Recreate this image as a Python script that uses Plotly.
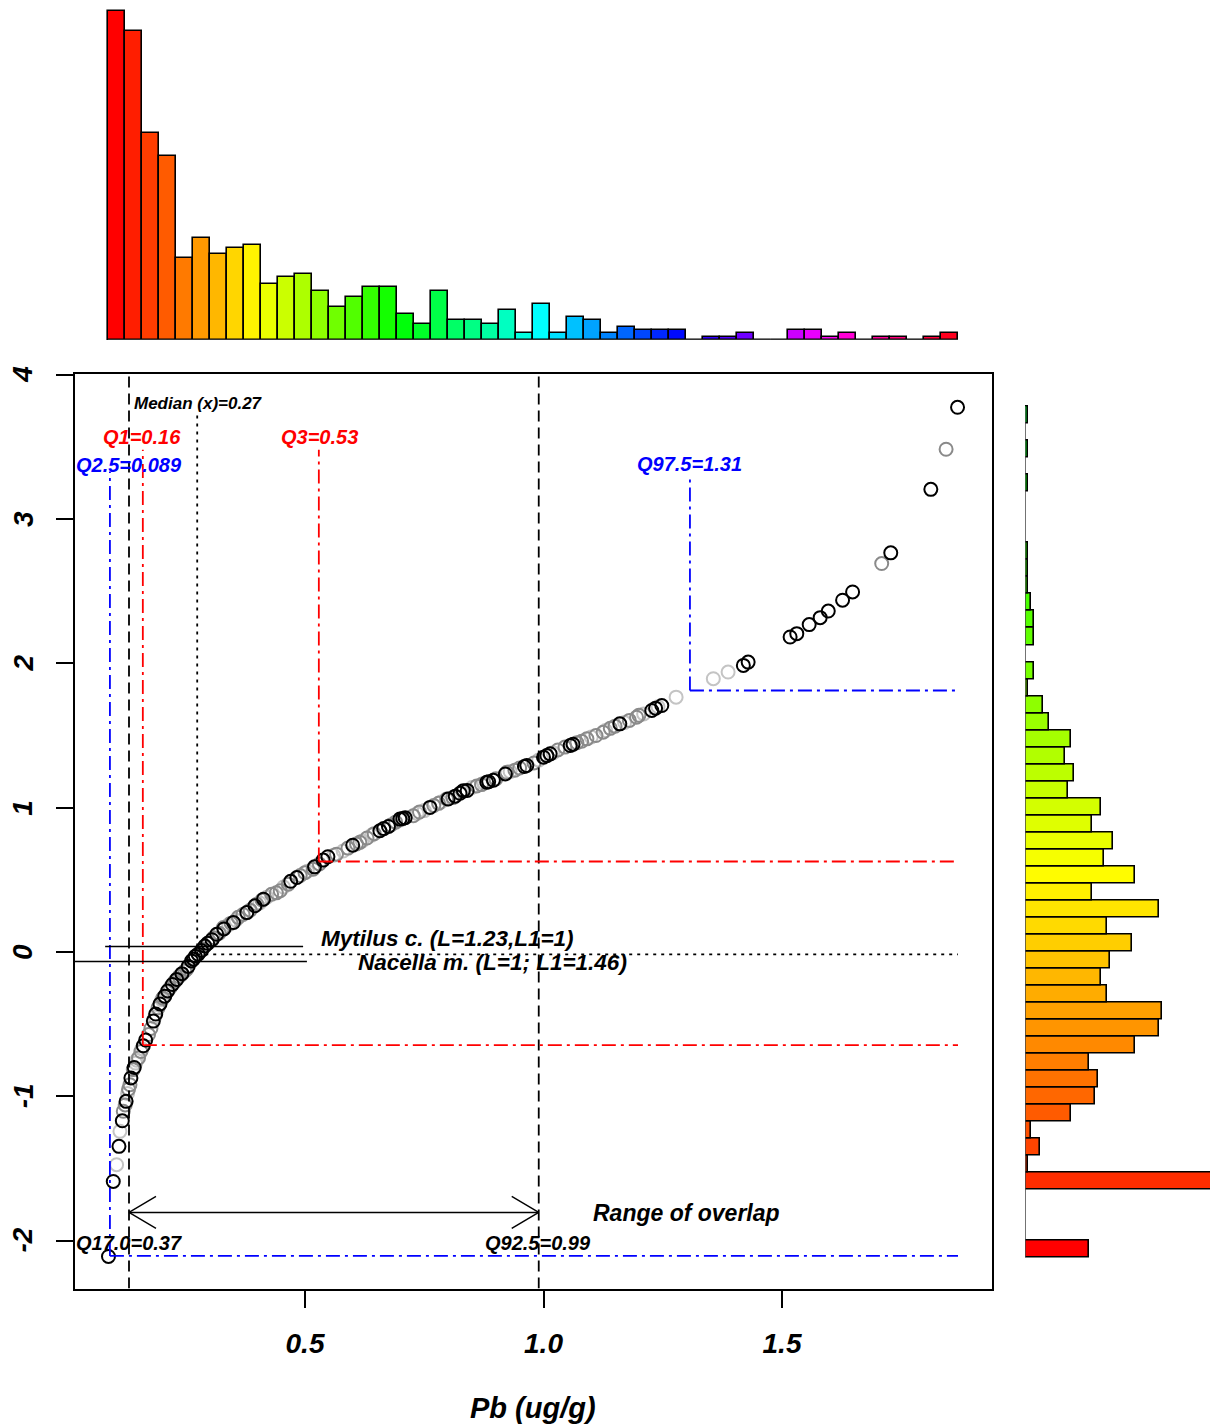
import colorsys
import plotly.graph_objects as go

# ---------------- data ----------------
# top histogram (Pb, ug/g) : 50 bins between data min and max
top_counts = [100, 94, 63, 56, 25, 31, 26, 28, 29, 17,
              19, 20, 15, 10, 13, 16, 16, 8, 5, 15,
              6, 6, 5, 9, 2, 11, 2, 7, 6, 2,
              4, 3, 3, 3, 0, 1, 1, 2, 0, 0,
              3, 3, 1, 2, 0, 1, 1, 0, 1, 2]
X_HIST_START, X_HIST_END = 0.087, 1.869

# right histogram (transformed values) : 50 bins, bottom to top
right_counts = [21, 0, 0, 0, 75, 1, 5, 2, 15, 23,
                24, 21, 36, 44, 45, 27, 25, 28, 35, 27,
                44, 22, 36, 26, 29, 22, 25, 14, 16, 13,
                15, 8, 6, 1, 3, 0, 3, 3, 2, 1,
                1, 1, 0, 0, 0, 1, 0, 1, 0, 1]
Y_HIST_START, Y_HIST_END = -2.114, 3.777

# axis ticks
x_ticks = [0.5, 1.0, 1.5]
x_tick_labels = ["0.5", "1.0", "1.5"]
y_ticks = [-2, -1, 0, 1, 2, 3, 4]

# scatter points (Pb vs transformed value), three shades
black_x = [0.088, 0.098, 0.110, 0.117, 0.125, 0.135, 0.142, 0.161, 0.166, 0.182,
           0.187, 0.196, 0.206, 0.212, 0.222, 0.231, 0.242, 0.255, 0.262, 0.266,
           0.270, 0.276, 0.283, 0.290, 0.296, 0.305, 0.315, 0.330, 0.350, 0.378,
           0.395, 0.413, 0.470, 0.483, 0.520, 0.538, 0.548, 0.600, 0.657, 0.665,
           0.675, 0.699, 0.705, 0.710, 0.762, 0.800, 0.815, 0.825, 0.832, 0.840,
           0.881, 0.885, 0.895, 0.920, 0.960, 0.965, 1.000, 1.007, 1.014, 1.056,
           1.062, 1.160, 1.227, 1.235, 1.248, 1.419, 1.429, 1.517, 1.531, 1.557,
           1.580, 1.597, 1.627, 1.648, 1.728, 1.812, 1.868]
black_y = [-2.110, -1.590, -1.347, -1.170, -1.035, -0.873, -0.800, -0.650, -0.610, -0.479,
           -0.430, -0.360, -0.306, -0.270, -0.225, -0.190, -0.150, -0.100, -0.062, -0.050,
           -0.030, -0.015, 0.010, 0.042, 0.060, 0.085, 0.123, 0.160, 0.204, 0.273,
           0.320, 0.366, 0.490, 0.516, 0.590, 0.637, 0.660, 0.740, 0.840, 0.855,
           0.870, 0.921, 0.925, 0.930, 1.002, 1.060, 1.080, 1.100, 1.118, 1.120,
           1.176, 1.180, 1.190, 1.234, 1.285, 1.292, 1.350, 1.361, 1.373, 1.431,
           1.440, 1.581, 1.674, 1.690, 1.708, 1.986, 2.009, 2.183, 2.206, 2.269,
           2.317, 2.363, 2.438, 2.495, 2.766, 3.206, 3.775]

gray_x = [0.119, 0.123, 0.130, 0.133, 0.140, 0.151, 0.156, 0.172, 0.177, 0.192,
          0.202, 0.217, 0.227, 0.236, 0.248, 0.252, 0.285, 0.308, 0.320, 0.329,
          0.345, 0.360, 0.370, 0.385, 0.399, 0.410, 0.430, 0.440, 0.448, 0.465,
          0.490, 0.500, 0.517, 0.530, 0.566, 0.590, 0.608, 0.615, 0.630, 0.645,
          0.680, 0.690, 0.727, 0.740, 0.770, 0.780, 0.797, 0.810, 0.860, 0.870,
          0.900, 0.923, 0.940, 0.950, 0.980, 1.030, 1.045, 1.070, 1.080, 1.091,
          1.110, 1.125, 1.140, 1.150, 1.180, 1.195, 1.200, 1.709, 1.844]
gray_y = [-1.104, -1.060, -0.951, -0.920, -0.815, -0.734, -0.690, -0.572, -0.530, -0.387,
          -0.320, -0.248, -0.205, -0.170, -0.132, -0.120, 0.020, 0.099, 0.130, 0.169,
          0.200, 0.240, 0.260, 0.290, 0.331, 0.360, 0.400, 0.410, 0.424, 0.470,
          0.530, 0.550, 0.574, 0.610, 0.678, 0.720, 0.748, 0.760, 0.790, 0.820,
          0.880, 0.900, 0.944, 0.970, 1.015, 1.030, 1.060, 1.070, 1.150, 1.160,
          1.200, 1.245, 1.260, 1.275, 1.310, 1.400, 1.420, 1.450, 1.460, 1.477,
          1.500, 1.523, 1.550, 1.565, 1.605, 1.627, 1.640, 2.692, 3.484]

light_x = [0.105, 0.112, 0.128, 0.145, 0.147, 0.158, 0.185, 0.200, 0.210, 0.228,
           0.240, 0.300, 0.340, 0.355, 0.405, 0.420, 0.455, 0.505, 0.560, 0.580,
           0.620, 0.640, 0.700, 0.735, 0.750, 0.785, 0.830, 0.850, 0.875, 0.930,
           0.990, 1.020, 1.060, 1.100, 1.130, 1.170, 1.210, 1.240, 1.278, 1.356,
           1.387]
light_y = [-1.474, -1.243, -0.980, -0.770, -0.750, -0.670, -0.450, -0.330, -0.280, -0.200,
           -0.160, 0.070, 0.190, 0.220, 0.340, 0.380, 0.450, 0.560, 0.670, 0.700,
           0.770, 0.810, 0.915, 0.960, 0.980, 1.040, 1.110, 1.140, 1.170, 1.250,
           1.330, 1.380, 1.435, 1.490, 1.535, 1.590, 1.650, 1.700, 1.766, 1.894,
           1.940]

# reference statistics
q025_x, q1_x, med_x, q3_x, q975_x = 0.091, 0.160, 0.274, 0.529, 1.307
q170_x, q925_x = 0.131, 0.990
q025_y, q1_y, med_y, q3_y, q975_y = -2.106, -0.645, -0.017, 0.627, 1.812
mytilus_y, nacella_y = 0.038, -0.066
overlap_y = -1.805

# ---------------- layout constants ----------------
PAGE_W, PAGE_H = 1218, 1425
OFF = 8                      # browser body margin
W, H = PAGE_W - OFF, PAGE_H - OFF


def px_x(p):                 # page pixel -> paper x
    return (p - OFF) / W


def px_y(p):                 # page pixel -> paper y
    return (PAGE_H - p) / H


X_RANGE = [0.0178, 1.9392]
Y_RANGE = [-2.332, 4.009]
XDOM = [px_x(75), px_x(991.5)]
YDOM = [px_y(1288.5), px_y(373.5)]
FONT = "Liberation Sans, Arial, sans-serif"


def rainbow(n, h_step):
    out = []
    for i in range(n):
        r, g, b = colorsys.hsv_to_rgb((i * h_step) % 1.0, 1, 1)
        out.append(f"rgb({int(r*255)},{int(g*255)},{int(b*255)})")
    return out


fig = go.Figure()

# top histogram
nt = len(top_counts)
tw = (X_HIST_END - X_HIST_START) / nt
top_centers = [X_HIST_START + (i + 0.5) * tw for i in range(nt)]
fig.add_trace(go.Bar(x=top_centers, y=top_counts, width=tw,
                     marker=dict(color=rainbow(nt, 1 / nt), line=dict(color="black", width=1.6)),
                     xaxis="x2", yaxis="y2", showlegend=False, hoverinfo="skip"))

# right histogram
nr = len(right_counts)
rw = (Y_HIST_END - Y_HIST_START) / nr
right_centers = [Y_HIST_START + (i + 0.5) * rw for i in range(nr)]
fig.add_trace(go.Bar(y=right_centers, x=right_counts, width=rw, orientation="h",
                     marker=dict(color=rainbow(nr, 0.0075), line=dict(color="black", width=1.6)),
                     xaxis="x3", yaxis="y3", showlegend=False, hoverinfo="skip"))

# scatter
for xs, ys, col in [(light_x, light_y, "#c4c4c4"), (gray_x, gray_y, "#8a8a8a"), (black_x, black_y, "black")]:
    fig.add_trace(go.Scatter(x=xs, y=ys, mode="markers",
                             marker=dict(symbol="circle-open", size=13, color=col, line=dict(width=2, color=col)),
                             showlegend=False, hoverinfo="skip"))

shapes = []


def seg(x0, y0, x1, y1, color, width, dash, xref="x", yref="y"):
    shapes.append(dict(type="line", x0=x0, y0=y0, x1=x1, y1=y1, xref=xref, yref=yref,
                       line=dict(color=color, width=width, dash=dash), layer="above"))


DASHDOT = "14px,5px,3px,5px"
# histogram baselines
seg(X_HIST_START, 0, X_HIST_END, 0, "#444", 1.5, "solid", "x2", "y2")
seg(0, Y_HIST_START, 0, Y_HIST_END, "#444", 1.5, "solid", "x3", "y3")

# full-height dashed lines
for xv in (q170_x, q925_x):
    seg(xv, Y_RANGE[0], xv, Y_RANGE[1], "black", 1.8, "11px,6px")

right_end = X_HIST_END
# blue Q2.5 / Q97.5
seg(q025_x, q025_y, q025_x, 3.33, "blue", 1.8, DASHDOT)
seg(q025_x, q025_y, right_end, q025_y, "blue", 1.8, DASHDOT)
seg(q975_x, q975_y, q975_x, 3.29, "blue", 1.8, DASHDOT)
seg(q975_x, q975_y, right_end, q975_y, "blue", 1.8, DASHDOT)
# red Q1 / Q3
seg(q1_x, q1_y, q1_x, 3.48, "red", 1.8, DASHDOT)
seg(q1_x, q1_y, right_end, q1_y, "red", 1.8, DASHDOT)
seg(q3_x, q3_y, q3_x, 3.48, "red", 1.8, DASHDOT)
seg(q3_x, q3_y, right_end, q3_y, "red", 1.8, DASHDOT)
# median dotted
seg(med_x, med_y, med_x, 3.72, "black", 1.8, "3px,5px")
seg(med_x, med_y, right_end, med_y, "black", 1.8, "3px,5px")
# species lines
seg(0.081, mytilus_y, 0.496, mytilus_y, "black", 1.4, "solid")
seg(X_RANGE[0], nacella_y, 0.504, nacella_y, "black", 1.4, "solid")

# double arrow (range of overlap)
seg(q170_x, overlap_y, q925_x, overlap_y, "black", 1.4, "solid")
hx, hy = 27 / 477, 16 / 144.3
for tip, sgn in ((q170_x, 1), (q925_x, -1)):
    seg(tip, overlap_y, tip + sgn * hx, overlap_y + hy, "black", 1.4, "solid")
    seg(tip, overlap_y, tip + sgn * hx, overlap_y - hy, "black", 1.4, "solid")

ann = []


def txt(x, y, s, color="black", size=19, xref="x", yref="y", angle=0):
    ann.append(dict(x=x, y=y, xref=xref, yref=yref, text=s, showarrow=False,
                    xanchor="center", yanchor="middle", textangle=angle,
                    font=dict(family=FONT, size=size, color=color, weight="bold", style="italic")))


txt(0.2757, 3.80, "Median (x)=0.27", "black", 17)
txt(0.159, 3.57, "Q1=0.16", "red", 20)
txt(0.530, 3.57, "Q3=0.53", "red", 20)
txt(0.130, 3.375, "Q2.5=0.089", "blue", 20)
txt(1.307, 3.38, "Q97.5=1.31", "blue", 20)
txt(0.798, 0.097, "Mytilus c. (L=1.23,L1=1)", "black", 22.5)
txt(0.894, -0.074, "Nacella m. (L=1; L1=1.46)", "black", 22.5)
txt(1.299, -1.81, "Range of overlap", "black", 23)
txt(0.132, -2.014, "Q17.0=0.37", "black", 20)
txt(0.988, -2.014, "Q92.5=0.99", "black", 20)
txt(px_x(533), px_y(1408), "Pb (ug/g)", "black", 29, "paper", "paper")

tickfont = dict(family=FONT, size=28, color="black", weight="bold", style="italic")
# y tick labels, rotated like the reference
for v in y_ticks:
    txt(px_x(23), v, str(v), "black", 28, "paper", "y", -90)

fig.update_layout(
    template="none",
    width=W, height=H, margin=dict(l=0, r=0, t=0, b=0, autoexpand=False),
    paper_bgcolor="white", plot_bgcolor="white",
    bargap=0, barmode="overlay",
    shapes=shapes, annotations=ann,
    xaxis=dict(domain=XDOM, range=X_RANGE, anchor="y", tickvals=x_ticks,
               ticktext=x_tick_labels, ticks="outside", ticklen=17, tickwidth=1.6,
               tickcolor="black", showline=True, mirror=True, linecolor="black", linewidth=2,
               showgrid=False, zeroline=False, tickfont=tickfont, ticklabelstandoff=12,
               automargin=False),
    yaxis=dict(domain=YDOM, range=Y_RANGE, anchor="x", tickvals=y_ticks, showticklabels=False,
               ticks="outside", ticklen=17, tickwidth=1.6, tickcolor="black",
               showline=True, mirror=True, linecolor="black", linewidth=2,
               showgrid=False, zeroline=False, automargin=False),
    xaxis2=dict(domain=XDOM, range=X_RANGE, anchor="y2", visible=False, automargin=False),
    yaxis2=dict(domain=[px_y(340), 1.0], range=[0, (340 - OFF) / 3.29], anchor="x2",
                visible=False, automargin=False),
    xaxis3=dict(domain=[px_x(1025), 1.0], range=[0, 193 / 3.05], anchor="y3", visible=False,
                automargin=False),
    yaxis3=dict(domain=YDOM, range=Y_RANGE, anchor="x3", visible=False, automargin=False),
)

fig.write_html("out.html")
